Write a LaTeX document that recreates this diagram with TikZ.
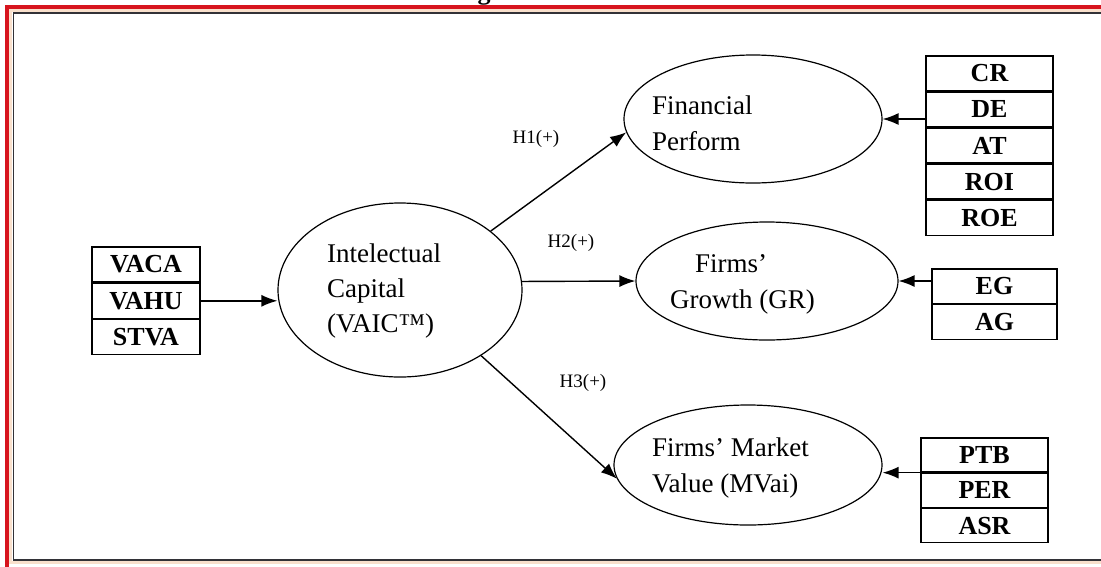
\documentclass[tikz,border=0pt]{standalone}
\usepackage{fontspec}
\setmainfont{Liberation Serif}
\usetikzlibrary{shapes.geometric,arrows.meta}
\definecolor{framered}{RGB}{215,20,30}
\definecolor{peach}{RGB}{249,224,204}
\definecolor{framegray}{RGB}{50,50,55}
\begin{document}
\begin{tikzpicture}[x=1pt,y=-1pt,
  lbl/.style={font=\fontsize{27}{35}\selectfont, anchor=base west, inner sep=0pt},
  hyp/.style={font=\fontsize{19}{22}\selectfont, inner sep=0pt},
  cell/.style={draw, line width=1.3pt, inner sep=0pt, font=\bfseries\fontsize{26}{26}\selectfont},
  ell/.style={draw, ellipse, line width=1.2pt, inner sep=0pt},
  arr/.style={line width=1.4pt, -{Latex[length=16pt,width=12pt]}},
]
\useasboundingbox (0,0) rectangle (1101,566);
% frame
\draw[peach, line width=3pt] (10.5,10.5) rectangle (1130,562.5);
\draw[framered, line width=3.5pt] (6.75,6.75) rectangle (1140,585);
\draw[framegray, line width=1.5pt] (13.5,13) rectangle (1125,560);
\node[font=\bfseries\fontsize{26}{26}\selectfont, anchor=base, inner sep=0pt] (gt) at (484,-1) {g};

% left indicator box
\node[cell, minimum width=108pt, minimum height=35pt] (vaca) at (146,264.5) {VACA};
\node[cell, minimum width=108pt, minimum height=35pt, anchor=north] (vahu) at (vaca.south) {VAHU};
\node[cell, minimum width=108pt, minimum height=35pt, anchor=north] (stva) at (vahu.south) {STVA};

% ellipses
\node[ell, minimum width=244pt, minimum height=174pt] (ic) at (400,290) {};
\node[ell, minimum width=258pt, minimum height=128pt] (fp) at (753,119) {};
\node[ell, minimum width=262pt, minimum height=118pt] (gr) at (767,281) {};
\node[ell, minimum width=268pt, minimum height=120pt] (mv) at (748,465) {};

% ellipse texts
\node[lbl] (ict1) at (327,262) {Intelectual};
\node[lbl] (ict2) at (327,297) {Capital};
\node[lbl] (ict3) at (327,332) {(VAIC™)};
\node[lbl] (fpt1) at (652,114) {Financial};
\node[lbl] (fpt2) at (652,150) {Perform};
\node[lbl] (grt1) at (695,272) {Firms’};
\node[lbl] (grt2) at (670,308) {Growth (GR)};
\node[lbl] (mvt1) at (652,456) {Firms’ Market};
\node[lbl] (mvt2) at (652,492) {Value (MVai)};

% right indicator boxes
\node[cell, minimum width=127pt, minimum height=34.8pt] (cr) at (989.5,73.4) {CR};
\node[cell, minimum width=127pt, minimum height=34.8pt, anchor=north] (de) at (cr.south) {DE};
\node[cell, minimum width=127pt, minimum height=34.8pt, anchor=north] (at) at (de.south) {AT};
\node[cell, minimum width=127pt, minimum height=34.8pt, anchor=north] (roi) at (at.south) {ROI};
\node[cell, minimum width=127pt, minimum height=34.8pt, anchor=north] (roe) at (roi.south) {ROE};

\node[cell, minimum width=125pt, minimum height=34.5pt] (eg) at (994.5,286.25) {EG};
\node[cell, minimum width=125pt, minimum height=34.5pt, anchor=north] (ag) at (eg.south) {AG};

\node[cell, minimum width=127pt, minimum height=34pt] (ptb) at (984.5,455) {PTB};
\node[cell, minimum width=127pt, minimum height=34pt, anchor=north] (per) at (ptb.south) {PER};
\node[cell, minimum width=127pt, minimum height=34pt, anchor=north] (asr) at (per.south) {ASR};

% hypothesis labels
\node[hyp] (h1) at (536,139) {H1(+)};
\node[hyp] (h2) at (571,243) {H2(+)};
\node[hyp] (h3) at (583,383) {H3(+)};

% connectors
\draw[arr] (vahu.east) -- (ic.west |- vahu.east);
\draw[arr] (ic.33) -- (fp.186);
\draw[arr] (ic.4) -- (gr.west);
\draw[arr] (ic.-39) -- (mv.186);
\draw[arr] (de.west |- fp.east) -- (fp.east);
\draw[arr] (eg.west |- gr.east) -- (gr.east);
\draw[arr] (ptb.south west) -- (mv.east |- ptb.south);
\end{tikzpicture}
\end{document}
